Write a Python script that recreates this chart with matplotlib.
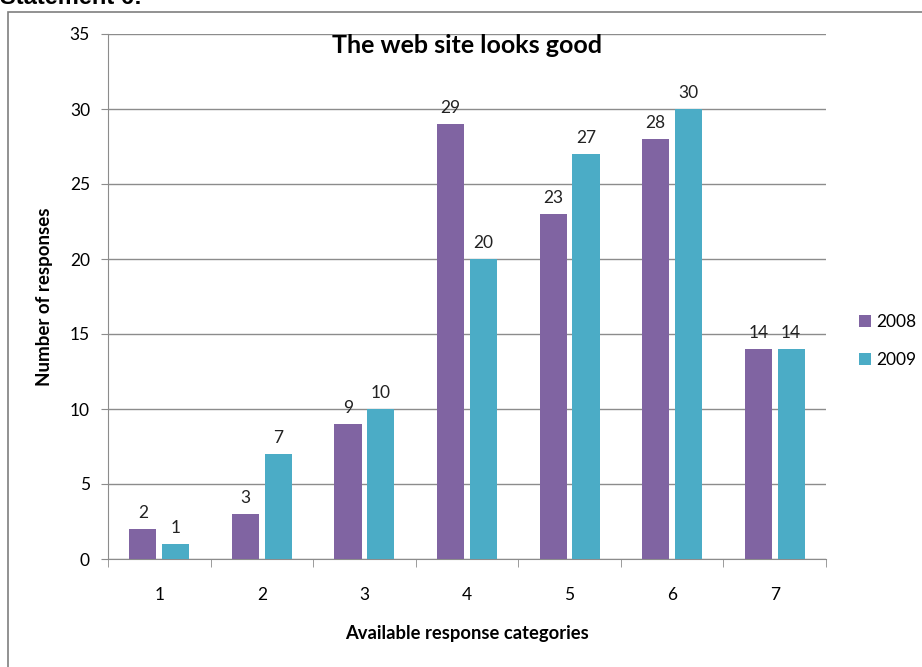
import matplotlib
matplotlib.use("Agg")
import matplotlib.pyplot as plt
from matplotlib.patches import Rectangle
import numpy as np

categories = ["1", "2", "3", "4", "5", "6", "7"]
series_names = ["2008", "2009"]
values_2008 = [2, 3, 9, 29, 23, 28, 14]
values_2009 = [1, 7, 10, 20, 27, 30, 14]
colors = ["#8064A2", "#4BACC6"]

plt.rcParams['font.family'] = ['Lato', 'DejaVu Sans']

fig = plt.figure(figsize=(9.22, 6.67), dpi=100)
W, H = 922, 667

# outer chart frame
fig.patches.append(Rectangle((8 / W, -0.1), 1.2, (H - 12) / H + 0.1, transform=fig.transFigure,
                             fill=False, edgecolor="#7f7f7f", linewidth=1.2))
fig.text(0.0, 1 - 4 / H, "Statement 6:", fontsize=17, fontweight="bold",
         family=["Liberation Sans", "DejaVu Sans"], ha="left", va="baseline")

ax = fig.add_axes([108 / W, 1 - 559 / H, (826 - 108) / W, (559 - 34) / H])
x = np.arange(len(categories))
bw = 0.265
off = 0.32
b1 = ax.bar(x - off / 2, values_2008, bw, color=colors[0], label=series_names[0], zorder=3)
b2 = ax.bar(x + off / 2, values_2009, bw, color=colors[1], label=series_names[1], zorder=3)
for bars, vals in ((b1, values_2008), (b2, values_2009)):
    for r, v in zip(bars, vals):
        ax.text(r.get_x() + r.get_width() / 2, v + 0.55, str(v), ha="center", va="bottom",
                fontsize=12.5, color="#222222")

ax.set_xlim(-0.5, len(categories) - 0.5)
ax.set_ylim(0, 35)
ax.set_yticks(range(0, 36, 5))
ax.yaxis.grid(True, color="#8c8c8c", linewidth=1, zorder=0)
ax.set_axisbelow(True)
ax.set_xticks(x)
ax.set_xticklabels(categories)
ax.set_xticks(np.arange(-0.5, len(categories)), minor=True)
ax.tick_params(axis="x", which="major", length=0, pad=20, labelsize=12.5)
ax.tick_params(axis="x", which="minor", length=6, color="#8c8c8c", direction="out")
ax.tick_params(axis="y", length=5, color="#8c8c8c", labelsize=12.5, pad=8)
for s in ("top", "right"):
    ax.spines[s].set_visible(False)
for s in ("left", "bottom"):
    ax.spines[s].set_color("#8c8c8c")

ax.set_title("The web site looks good", fontsize=18, fontweight="bold", y=0.985, va="top")
ax.set_ylabel("Number of responses", fontsize=13.5, fontweight="bold", labelpad=12)
ax.set_xlabel("Available response categories", fontsize=13.2, fontweight="bold", labelpad=16)

leg = fig.legend(handles=[b1, b2], labels=series_names, loc="center left",
                 bbox_to_anchor=(843 / W, 1 - 341 / H), frameon=False, fontsize=12.5,
                 handlelength=0.7, handleheight=0.7, handletextpad=0.3, labelspacing=1.3)

fig.savefig("out.png", dpi=100)
